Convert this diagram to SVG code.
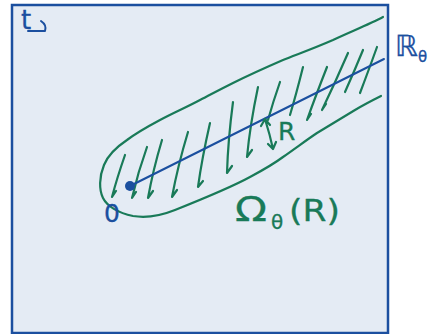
<svg xmlns="http://www.w3.org/2000/svg" width="435" height="334" viewBox="0 0 435 334">
<style>
.bl{stroke:#1b4f9f;fill:none;stroke-width:2;stroke-linecap:round;stroke-linejoin:round}
.gr{stroke:#197a58;fill:none;stroke-width:2.2;stroke-linecap:round;stroke-linejoin:round}
.tb{fill:#1b4f9f;stroke:#1b4f9f;stroke-width:0.3;font-family:"DejaVu Sans","Liberation Sans",sans-serif}
.tg{fill:#197a58;stroke:#197a58;stroke-width:0.3;font-family:"DejaVu Sans","Liberation Sans",sans-serif}
</style>
<rect x="12" y="5" width="376" height="328" fill="#e4ebf4" stroke="#1b4f9f" stroke-width="2.5"/>
<g id="plane-label">
<text class="tb" x="21" y="29" font-size="26">t</text>
<path class="bl" d="M28,31 L44,31 M41,21 Q47,25 45,31"/>
</g>
<g id="region">
<path class="gr" d="M383,17 C370,24 350,32 333,40 C310,50 295,55 283,60 C260,70 245,77 233,83 C215,92 210,95 200,100 C185,108 175,112 160,120 C145,128 135,134 127,140 C115,148 108,155 104,165 C99,177 99,190 103,198 C107,206 118,213 133,216 C145,218 160,216 175,210 C200,200 230,188 250,177 C265,169 275,163 283,157 C300,145 308,139 317,133 C335,122 345,116 355,110 C365,104 375,99 381,96"/>
<g id="hatch" class="gr">
<path d="M125,155 Q117,178 112,197 L116,191"/>
<path d="M147,147 Q138,172 132,198 L136,192"/>
<path d="M162,140 Q153,170 148,198 L153,191"/>
<path d="M188,132 Q178,165 172,197 L177,190"/>
<path d="M210,123 Q202,158 198,187 L203,181"/>
<path d="M233,102 Q228,140 227,173 L232,166"/>
<path d="M258,87 Q250,125 247,157 L252,150"/>
<path d="M280,82 Q273,102 268,120"/>
<path d="M303,67 Q296,95 290,115"/>
<path d="M327,67 Q316,95 307,120 L311,114"/>
<path d="M348,53 Q335,83 322,110 L326,104"/>
<path d="M363,50 Q354,72 345,92"/>
<path d="M377,47 Q368,72 360,93"/>
</g>
<text class="tg" x="235" y="221" font-size="33" textLength="32" lengthAdjust="spacingAndGlyphs">Ω</text>
<text class="tg" x="271" y="229" font-size="20">θ</text>
<text class="tg" x="289" y="221" font-size="30" textLength="51" lengthAdjust="spacingAndGlyphs">(R)</text>
</g>
<g id="ray">
<path class="bl" d="M130,186 L384,59"/>
<circle cx="130" cy="186" r="5" fill="#1b4f9f"/>
<text class="tb" x="104" y="222" font-size="25">0</text>
<text class="tb" x="395" y="56" font-size="29">ℝ</text>
<text class="tb" x="418" y="62" font-size="15">θ</text>
</g>
<g id="radius">
<path class="gr" d="M265,119 Q270,135 273,149 M261,126 L265,119 L270,125 M268,144 L273,149 L276,142"/>
<text class="tg" x="278" y="140" font-size="25">R</text>
</g>
</svg>
